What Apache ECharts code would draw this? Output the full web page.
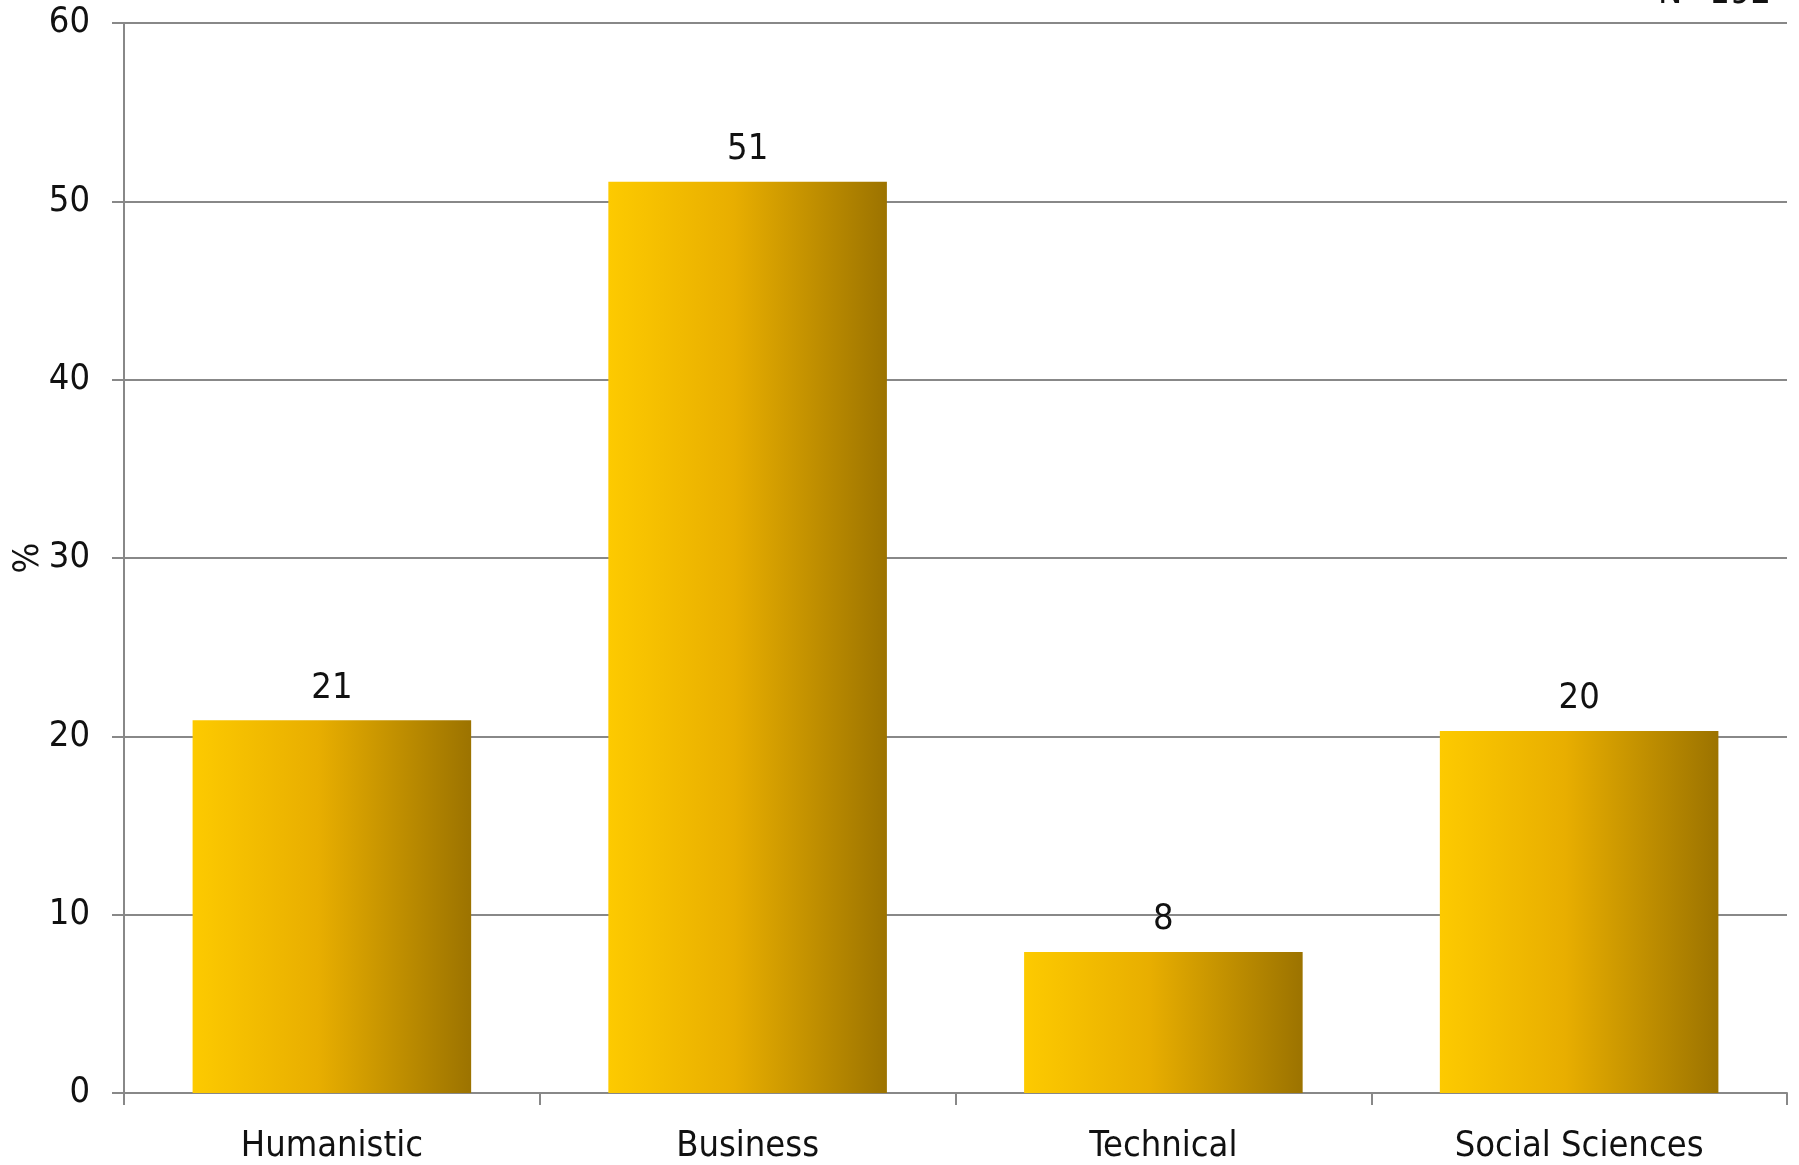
<!DOCTYPE html>
<html>
<head>
<meta charset="utf-8">
<script src="https://cdn.jsdelivr.net/npm/echarts@6/dist/echarts.min.js"></script>
<style>html,body{margin:0;padding:0;background:#fff;}#c{width:1799px;height:1165px;}</style>
</head>
<body>
<div id="c"></div>
<script>
const categories = ["Humanistic", "Business", "Technical", "Social Sciences"];
const values = [20.9, 51.1, 7.9, 20.3];
const yTicks = [0, 10, 20, 30, 40, 50, 60];
const noteText = "N=192";
const yName = "%";

const FONT = '"Liberation Sans Narrow", "DejaVu Sans Condensed", "Liberation Sans", sans-serif';
const chart = echarts.init(document.getElementById('c'));
const grad = new echarts.graphic.LinearGradient(0, 0, 1, 0, [
  {offset: 0, color: '#FDCA00'},
  {offset: 0.45, color: '#E8AE00'},
  {offset: 1, color: '#9C7300'}
]);
chart.setOption({
  animation: false,
  backgroundColor: '#fff',
  grid: {left: 124, right: 12, top: 23, bottom: 72, containLabel: false, outerBoundsMode: 'none'},
  xAxis: {
    type: 'category',
    data: categories,
    axisLine: {lineStyle: {color: '#888', width: 2}},
    axisTick: {show: true, alignWithLabel: false, length: 12, lineStyle: {color: '#888', width: 2}},
    axisLabel: {color: '#111', fontFamily: FONT, fontSize: 36, margin: 36}
  },
  yAxis: {
    type: 'value',
    min: yTicks[0], max: yTicks[yTicks.length - 1], interval: 10,
    name: yName,
    nameLocation: 'middle',
    nameGap: 77,
    nameMoveOverlap: false,
    nameRotate: 90,
    nameTextStyle: {color: '#111', fontFamily: FONT, fontSize: 36},
    axisLine: {show: true, lineStyle: {color: '#888', width: 2}},
    axisTick: {show: true, length: 12, lineStyle: {color: '#888', width: 2}},
    splitLine: {show: true, lineStyle: {color: '#888', width: 2}},
    axisLabel: {color: '#111', fontFamily: FONT, fontSize: 36, margin: 34}
  },
  series: [{
    type: 'bar',
    data: values,
    barCategoryGap: '33%',
    itemStyle: {color: grad},
    label: {
      show: true, position: 'top', distance: 14,
      color: '#111', fontFamily: FONT, fontSize: 36,
      formatter: p => Math.round(p.value)
    }
  }],
  graphic: [{
    type: 'text', left: 1658, top: -24,
    style: {text: noteText, fill: '#111', font: '36px ' + FONT}
  }]
});
</script>
</body>
</html>
